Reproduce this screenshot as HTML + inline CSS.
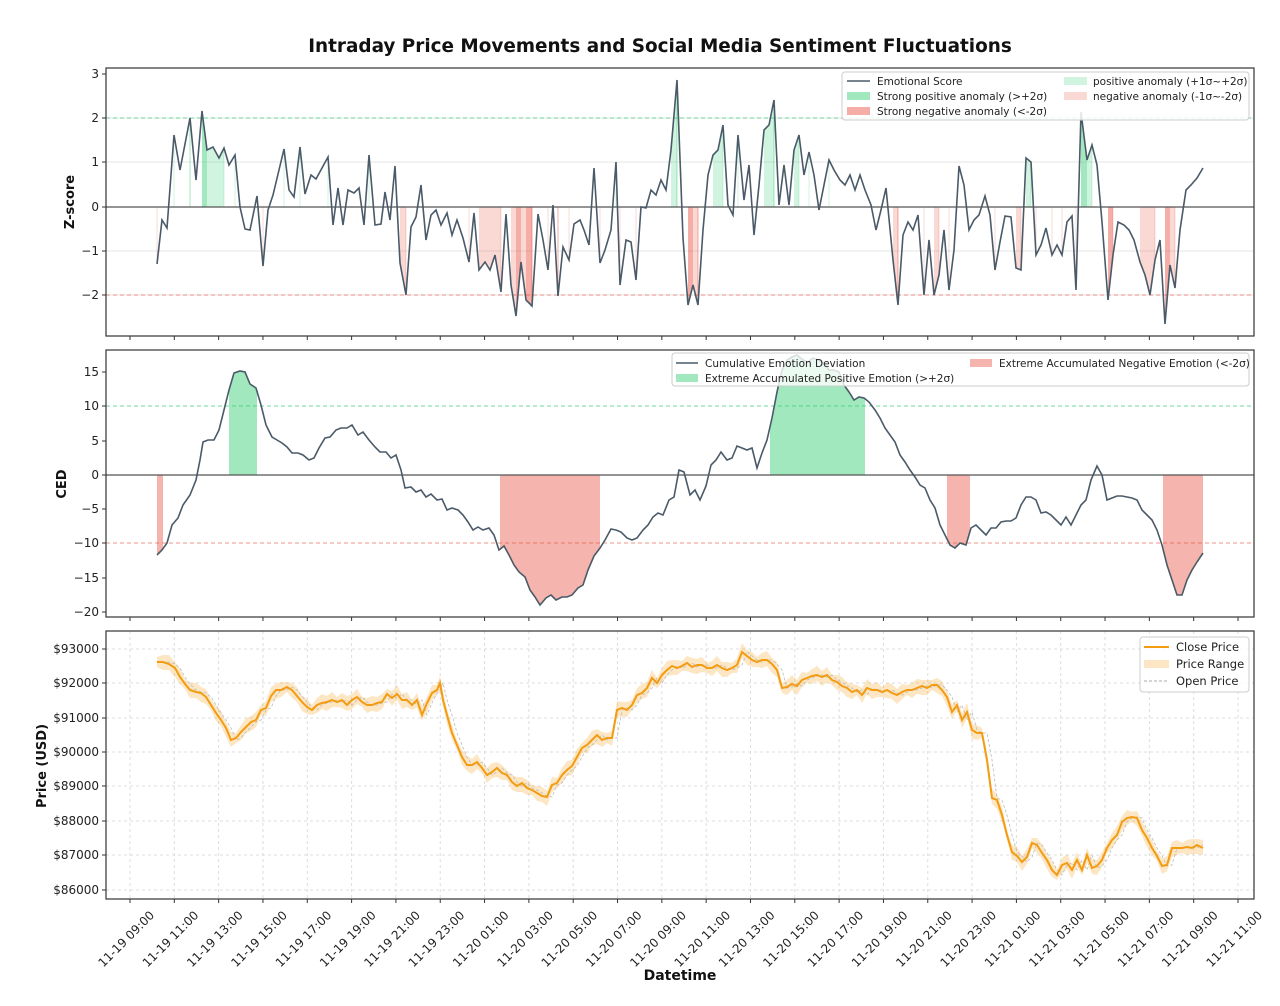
<!DOCTYPE html>
<html><head><meta charset="utf-8"><style>
body{margin:0;background:#fff;}
svg{display:block;font-family:"DejaVu Sans","Liberation Sans",sans-serif;}
</style></head><body>
<svg id="s" width="1280" height="1006" xmlns="http://www.w3.org/2000/svg"></svg>
<script>
const S=document.getElementById('s');let h='';
const L=106,R=1254;
h+='<rect width="1280" height="1006" fill="#fff"/>';
h+='<text x="660" y="52" text-anchor="middle" font-size="18.4" font-weight="bold" fill="#111">Intraday Price Movements and Social Media Sentiment Fluctuations</text>';
function P(a){let r=[];for(let i=0;i<a.length;i+=2)r.push([a[i],a[i+1]]);return r;}
function pl(p){return p.map(q=>q[0]+','+q[1]).join(' ');}
function interp(p,x){for(let i=0;i<p.length-1;i++){if(x>=p[i][0]&&x<=p[i+1][0]){let t=(x-p[i][0])/(p[i+1][0]-p[i][0]);return p[i][1]+t*(p[i+1][1]-p[i][1]);}}return null;}
function fillRange(p,x0,x1,y0,col){let pts=[[x0,y0]];pts.push([x0,interp(p,x0)]);p.forEach(q=>{if(q[0]>x0&&q[0]<x1)pts.push(q)});pts.push([x1,interp(p,x1)]);pts.push([x1,y0]);return '<polygon points="'+pl(pts)+'" fill="'+col+'"/>';}
const ticksX=[];for(let i=0;i<26;i++)ticksX.push(130+i*44.32);
function frame(t,b){let s='<rect x="'+L+'" y="'+t+'" width="'+(R-L)+'" height="'+(b-t)+'" fill="none" stroke="#333" stroke-width="1.2"/>';ticksX.forEach(x=>{s+='<line x1="'+x+'" y1="'+b+'" x2="'+x+'" y2="'+(b+4)+'" stroke="#333"/>';});return s;}
function yt(y,lab){return '<line x1="'+(L-4)+'" y1="'+y+'" x2="'+L+'" y2="'+y+'" stroke="#333"/><text x="'+(L-7)+'" y="'+(y+4)+'" text-anchor="end" font-size="12" fill="#222">'+lab+'</text>';}
// ---------- Panel 1
const T1=68,B1=336;
const z=P([157,264,162,220,167,228,174,135,180,170,190,118,196,180,202,111,207,150,213,147,219,158,224,148,229,165,235,155,240,207,245,229,250,230,257,196,263,266,268,210,273,195,279,170,284,149,289,190,294,197,300,147,305,194,311,175,316,179,322,168,328,157,333,225,338,188,343,225,348,190,354,193,359,188,364,225,369,155,375,225,381,224,385,192,390,220,395,166,400,263,406,295,411,227,416,217,421,185,426,240,431,215,436,210,441,225,447,213,452,235,457,220,463,238,469,262,474,213,479,270,485,262,490,270,495,255,501,292,506,214,511,285,516,316,521,262,526,300,532,306,538,214,543,240,548,270,553,205,558,296,563,247,569,260,574,224,580,220,584,230,589,245,594,168,600,263,605,250,611,230,616,162,620,285,626,240,631,242,636,280,641,207,646,208,651,190,656,195,661,180,666,190,671,150,677,80,683,238,688,305,693,285,698,305,703,230,708,175,713,155,718,150,723,125,728,205,733,215,738,135,744,200,749,165,754,235,759,185,764,130,769,125,774,100,779,205,784,165,789,205,794,150,799,135,804,175,809,152,814,175,819,210,824,185,829,160,834,170,840,180,845,185,850,175,855,190,860,175,865,190,871,205,876,230,881,210,886,188,893,260,898,305,903,235,908,222,913,230,918,215,924,295,929,240,934,295,939,275,944,230,949,290,954,250,959,166,964,185,969,230,974,220,979,215,985,196,990,215,995,270,1000,242,1005,216,1011,217,1016,268,1021,270,1026,158,1031,162,1036,255,1041,245,1046,228,1052,255,1057,245,1062,255,1067,222,1072,216,1076,290,1081,112,1087,160,1092,145,1097,165,1102,222,1108,300,1113,255,1118,222,1124,225,1129,230,1134,240,1140,262,1145,275,1150,295,1155,260,1160,240,1165,324,1170,265,1175,288,1180,230,1186,190,1191,185,1197,178,1203,168]);
const Z0=207;
[118,162,251,295].forEach(y=>h+='<line x1="'+L+'" y1="'+y+'" x2="'+R+'" y2="'+y+'" stroke="#e6e6e6"/>');
for(let i=0;i<z.length;i++){const y=z[i][1];const v=(Z0-y)/44.3;if(Math.abs(v)>=1){const pos=v>0;const strong=Math.abs(v)>=2;const col=pos?(strong?'rgba(46,204,113,0.45)':'rgba(46,204,113,0.22)'):(strong?'rgba(231,76,60,0.45)':'rgba(231,76,60,0.22)');
 const n=z[i+1];const nv=n?(Z0-n[1])/44.3:0;
 if(n&&Math.abs(nv)>=1&&(nv>0)==pos){h+='<polygon points="'+z[i][0]+','+Z0+' '+z[i][0]+','+y+' '+n[0]+','+n[1]+' '+n[0]+','+Z0+'" fill="'+col+'"/>';}
 else h+='<line x1="'+z[i][0]+'" y1="'+Z0+'" x2="'+z[i][0]+'" y2="'+y+'" stroke="'+col+'" stroke-width="1"/>';}}
h+='<line x1="'+L+'" y1="118" x2="'+R+'" y2="118" stroke="#2ecc71" stroke-opacity="0.7" stroke-dasharray="4,3"/>';
h+='<line x1="'+L+'" y1="295" x2="'+R+'" y2="295" stroke="#e74c3c" stroke-opacity="0.6" stroke-dasharray="4,3"/>';
h+='<line x1="'+L+'" y1="'+Z0+'" x2="'+R+'" y2="'+Z0+'" stroke="#555" stroke-width="1.3"/>';
h+='<polyline points="'+pl(z)+'" fill="none" stroke="#4a5a68" stroke-width="1.6"/>';
h+=frame(T1,B1);
[[74,'3'],[118,'2'],[162,'1'],[207,'0'],[251,'\u22121'],[295,'\u22122']].forEach(a=>h+=yt(a[0],a[1]));
h+='<text transform="translate(74,202) rotate(-90)" text-anchor="middle" font-size="13" font-weight="bold" fill="#111">Z-score</text>';
h+='<rect x="842" y="72" width="407" height="48" rx="3" fill="#fff" fill-opacity="0.85" stroke="#ccc"/>';
h+='<line x1="847" y1="81" x2="870" y2="81" stroke="#4a5a68" stroke-width="1.6"/><text x="877" y="85" font-size="10.5" fill="#222">Emotional Score</text>';
h+='<rect x="847" y="92" width="23" height="8" fill="rgba(46,204,113,0.45)"/><text x="877" y="100" font-size="10.5" fill="#222">Strong positive anomaly (&gt;+2σ)</text>';
h+='<rect x="847" y="107" width="23" height="8" fill="rgba(231,76,60,0.45)"/><text x="877" y="115" font-size="10.5" fill="#222">Strong negative anomaly (&lt;-2σ)</text>';
h+='<rect x="1064" y="77" width="23" height="8" fill="rgba(46,204,113,0.22)"/><text x="1093" y="85" font-size="10.5" fill="#222">positive anomaly (+1σ~+2σ)</text>';
h+='<rect x="1064" y="92" width="23" height="8" fill="rgba(231,76,60,0.22)"/><text x="1093" y="100" font-size="10.5" fill="#222">negative anomaly (-1σ~-2σ)</text>';
// ---------- Panel 2
const T2=350,B2=617,C0=475;
const c=P([157,555,162,550,167,543,172,525,178,518,183,505,190,495,196,480,200,460,203,442,208,440,214,440,219,430,224,410,229,390,234,373,240,371,245,372,250,384,256,388,261,405,266,425,272,437,277,440,282,443,287,447,292,453,298,453,303,455,309,460,314,458,319,448,325,438,330,437,336,430,341,428,347,428,352,425,358,435,363,432,369,440,375,447,380,452,386,452,391,458,396,455,401,470,405,488,411,487,416,492,421,490,426,497,431,494,437,500,442,499,447,510,452,508,458,510,463,515,468,522,473,530,478,527,483,530,489,528,494,535,499,550,504,546,509,555,514,565,519,572,525,577,530,590,535,597,540,605,546,598,551,595,556,600,562,597,567,597,572,595,578,588,583,585,588,570,594,556,600,548,605,540,611,529,616,530,621,532,627,538,632,540,637,538,643,530,648,525,653,517,658,513,663,515,669,500,674,497,679,470,684,472,690,495,695,490,700,500,706,486,711,465,716,460,721,452,727,460,732,458,737,446,742,448,747,450,752,448,757,468,762,453,767,440,772,418,777,392,782,370,787,360,792,357,797,355,803,360,808,362,813,358,818,360,824,363,829,370,834,370,839,372,844,385,849,392,854,400,859,397,864,398,869,402,875,410,880,418,885,428,890,435,895,442,900,455,905,462,910,470,915,477,920,485,925,488,930,500,935,508,940,525,945,535,950,545,955,548,960,543,966,545,971,528,976,525,981,530,986,535,991,528,996,528,1001,522,1006,521,1011,521,1016,518,1021,505,1026,497,1031,497,1036,500,1041,513,1046,512,1051,515,1056,520,1061,525,1066,517,1071,525,1076,515,1081,505,1086,500,1091,480,1097,466,1102,475,1107,500,1112,498,1117,496,1122,496,1127,497,1132,498,1137,500,1142,510,1147,515,1152,520,1157,530,1162,545,1167,565,1172,580,1177,595,1182,595,1187,580,1192,570,1197,562,1203,553]);
const G='rgba(46,204,113,0.45)',Rd='rgba(231,76,60,0.42)';
h+=fillRange(c,229,257,C0,G)+fillRange(c,770,865,C0,G)+fillRange(c,157,163,C0,Rd)+fillRange(c,500,600,C0,Rd)+fillRange(c,947,970,C0,Rd)+fillRange(c,1163,1203,C0,Rd);
h+='<line x1="'+L+'" y1="406" x2="'+R+'" y2="406" stroke="#2ecc71" stroke-opacity="0.7" stroke-dasharray="4,3"/>';
h+='<line x1="'+L+'" y1="543" x2="'+R+'" y2="543" stroke="#e74c3c" stroke-opacity="0.6" stroke-dasharray="4,3"/>';
h+='<line x1="'+L+'" y1="'+C0+'" x2="'+R+'" y2="'+C0+'" stroke="#555" stroke-width="1.3"/>';
h+='<polyline points="'+pl(c)+'" fill="none" stroke="#4a5a68" stroke-width="1.6"/>';
h+=frame(T2,B2);
[[372,'15'],[406,'10'],[441,'5'],[475,'0'],[509,'\u22125'],[543,'\u221210'],[578,'\u221215'],[612,'\u221220']].forEach(a=>h+=yt(a[0],a[1]));
h+='<text transform="translate(66,484) rotate(-90)" text-anchor="middle" font-size="13" font-weight="bold" fill="#111">CED</text>';
h+='<rect x="672" y="353" width="577" height="33" rx="3" fill="#fff" fill-opacity="0.8" stroke="#ccc"/>';
h+='<line x1="676" y1="363" x2="698" y2="363" stroke="#4a5a68" stroke-width="1.6"/><text x="705" y="367" font-size="10.5" fill="#222">Cumulative Emotion Deviation</text>';
h+='<rect x="676" y="374" width="22" height="8" fill="'+G+'"/><text x="705" y="382" font-size="10.5" fill="#222">Extreme Accumulated Positive Emotion (&gt;+2σ)</text>';
h+='<rect x="970" y="359" width="22" height="8" fill="'+Rd+'"/><text x="999" y="367" font-size="10.5" fill="#222">Extreme Accumulated Negative Emotion (&lt;-2σ)</text>';
// ---------- Panel 3
const T3=631,B3=899;
const pyt=[649,683,718,752,786,821,855,890];
pyt.forEach(y=>h+='<line x1="'+L+'" y1="'+y+'" x2="'+R+'" y2="'+y+'" stroke="#ddd" stroke-dasharray="3,3"/>');
ticksX.forEach(x=>h+='<line x1="'+x+'" y1="'+T3+'" x2="'+x+'" y2="'+B3+'" stroke="#ddd" stroke-dasharray="3,3"/>');
const p=P([157,662,163,662,169,664,175,668,180,677,185,684,190,690,196,692,201,693,206,697,211,705,216,713,221,720,226,728,231,740,236,738,241,732,246,727,251,722,256,720,261,710,266,708,271,696,276,690,281,690,287,687,292,690,297,696,302,702,307,707,312,710,317,705,322,703,327,702,332,700,337,702,342,700,347,705,352,700,357,697,362,702,367,705,372,705,377,703,382,702,387,694,392,698,397,694,402,700,407,700,412,705,417,700,422,715,427,703,432,693,437,690,440,683,443,700,447,715,452,733,457,745,462,757,467,765,472,765,477,762,482,768,487,775,492,772,497,768,502,773,507,775,512,782,517,786,522,783,527,788,532,790,537,793,542,796,547,797,552,785,557,783,562,775,567,770,572,766,577,757,582,748,587,745,592,740,597,735,602,740,607,738,612,738,617,710,622,708,627,710,632,705,637,695,642,693,647,688,652,678,657,683,662,675,667,670,672,666,677,668,682,666,687,663,692,667,697,665,702,665,707,668,712,668,717,665,722,668,727,670,732,668,737,665,742,652,747,656,752,660,757,662,762,660,767,660,772,664,777,670,782,688,787,687,792,684,797,686,802,680,807,678,812,676,817,675,822,677,827,675,832,680,837,682,842,686,847,688,852,692,857,690,862,695,867,688,872,690,877,690,882,692,887,690,892,693,897,695,902,692,907,690,912,690,917,688,922,686,927,688,932,685,937,685,942,690,947,697,952,712,957,705,962,720,967,712,972,730,977,733,982,733,987,760,992,798,997,800,1002,815,1007,835,1012,852,1017,856,1022,862,1027,857,1032,843,1037,845,1042,853,1047,860,1052,870,1057,875,1062,865,1067,863,1072,870,1077,860,1082,870,1087,855,1092,868,1097,866,1102,860,1107,848,1112,840,1117,835,1122,822,1127,818,1132,817,1137,818,1142,830,1147,838,1152,848,1157,856,1162,866,1167,865,1172,848,1177,848,1182,848,1187,847,1192,848,1197,845,1203,848]);
const up=p.map((q,i)=>[q[0],q[1]-5-((i*7)%5)]),dn=p.map((q,i)=>[q[0],q[1]+5+((i*3)%5)]);
h+='<polygon points="'+pl(up)+' '+pl(dn.slice().reverse())+'" fill="rgba(243,156,18,0.25)"/>';
const op=p.map((q,i)=>[q[0],(p[i-1]||q)[1]]);
h+='<polyline points="'+pl(op)+'" fill="none" stroke="#bbb" stroke-width="0.8" stroke-dasharray="3,2"/>';
h+='<polyline points="'+pl(p)+'" fill="none" stroke="#f39c12" stroke-width="2"/>';
h+=frame(T3,B3);
['$93000','$92000','$91000','$90000','$89000','$88000','$87000','$86000'].forEach((l,i)=>h+=yt(pyt[i],l));
h+='<text transform="translate(46,766) rotate(-90)" text-anchor="middle" font-size="13" font-weight="bold" fill="#111">Price (USD)</text>';
h+='<rect x="1140" y="637" width="109" height="55" rx="3" fill="#fff" fill-opacity="0.85" stroke="#ccc"/>';
h+='<line x1="1144" y1="647" x2="1169" y2="647" stroke="#f39c12" stroke-width="2"/><text x="1176" y="651" font-size="11.5" fill="#222">Close Price</text>';
h+='<rect x="1144" y="660" width="25" height="8" fill="rgba(243,156,18,0.25)"/><text x="1176" y="668" font-size="11.5" fill="#222">Price Range</text>';
h+='<line x1="1144" y1="681" x2="1169" y2="681" stroke="#aaa" stroke-dasharray="3,2"/><text x="1176" y="685" font-size="11.5" fill="#222">Open Price</text>';
const labs=[];const base=['11-19','11-20','11-21'];
for(let i=0;i<26;i++){let hr=9+2*i;let d=Math.floor(hr/24);hr%=24;labs.push(base[d]+' '+String(hr).padStart(2,'0')+':00');}
ticksX.forEach((x,i)=>h+='<text transform="translate('+(x+25)+',916) rotate(-45)" text-anchor="end" font-size="12" fill="#222">'+labs[i]+'</text>');
h+='<text x="680" y="980" text-anchor="middle" font-size="14" font-weight="bold" fill="#111">Datetime</text>';
S.innerHTML=h;
</script>
</body></html>
